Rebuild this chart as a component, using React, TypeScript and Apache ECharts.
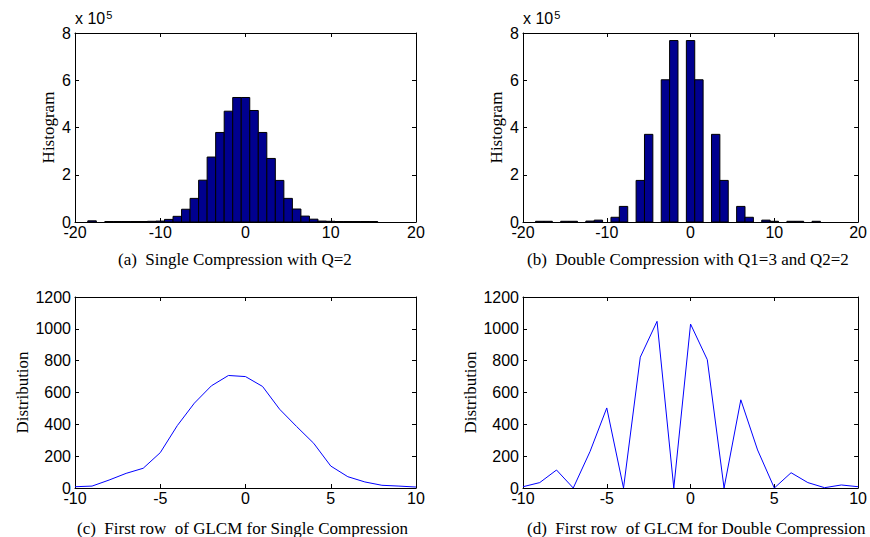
import React, { useEffect, useRef } from "react";
import * as echarts from "echarts";

// Histogram bin centres (DCT coefficient values)
const histBins = [-18, -17, -16, -15, -14, -13, -12, -11, -10, -9, -8, -7, -6, -5, -4, -3, -2, -1, 0, 1, 2, 3, 4, 5, 6, 7, 8, 9, 10, 11, 12, 13, 14, 15];
// (a) Single compression histogram counts
const singleHist = [5000, 0, 2000, 2000, 2000, 2000, 2000, 3000, 4000, 11000, 24000, 54000, 100000, 177000, 275000, 379000, 469000, 527000, 527000, 472000, 379000, 269000, 176000, 100000, 55000, 25000, 12000, 4000, 3000, 2000, 2000, 2000, 2000, 2000];
// (b) Double compression histogram counts
const doubleHist = [3000, 3000, 0, 3000, 3000, 0, 4000, 8000, 0, 20000, 66000, 0, 176000, 371000, 0, 602000, 768000, 0, 768000, 602000, 0, 371000, 176000, 0, 66000, 20000, 0, 8000, 3000, 0, 3000, 3000, 0, 3000];

// GLCM first row
const glcmX = [-10, -9, -8, -7, -6, -5, -4, -3, -2, -1, 0, 1, 2, 3, 4, 5, 6, 7, 8, 9, 10];
const glcmSingle = [8, 12, 50, 92, 124, 222, 392, 533, 642, 707, 700, 638, 495, 386, 281, 138, 71, 38, 17, 12, 6];
const glcmDouble = [8, 34, 113, 0, 229, 503, 0, 822, 1047, 0, 1030, 806, 0, 554, 239, 0, 96, 34, 2, 19, 8];

// Axis tick labels / ranges
const histXRange = [-20, 20, 10];
const histYRange = [0, 800000, 200000];
const glcmXRange = [-10, 10, 5];
const glcmYRange = [0, 1200, 200];

const captions = [
  "(a)  Single Compression with Q=2",
  "(b)  Double Compression with Q1=3 and Q2=2",
  "(c)  First row  of GLCM for Single Compression",
  "(d)  First row  of GLCM for Double Compression",
];

const TICK_FONT = "Liberation Sans, Arial, sans-serif";
const SERIF = "Liberation Serif, Times New Roman, serif";

const grids = [
  { left: 75, top: 33, width: 341, height: 189 },
  { left: 523, top: 33, width: 339, height: 189 },
  { left: 75, top: 297, width: 341, height: 191 },
  { left: 523, top: 297, width: 339, height: 191 },
];

export default function App() {
  const ref = useRef<HTMLDivElement>(null);
  useEffect(() => {
    if (!ref.current) return;
    const chart = echarts.init(ref.current, null, { renderer: "svg" });

    const xAxes: any[] = [];
    const yAxes: any[] = [];
    const axisLine = { show: true, onZero: false, lineStyle: { color: "#000", width: 1 } };
    const tick = { show: true, inside: true, length: 4, lineStyle: { color: "#000", width: 1 } };

    grids.forEach((g, i) => {
      const isHist = i < 2;
      const xr = isHist ? histXRange : glcmXRange;
      const yr = isHist ? histYRange : glcmYRange;
      const yName = isHist ? "Histogram" : "Distribution";
      const yGap = isHist ? 18 : 44;
      xAxes.push({
        gridIndex: i, type: "value", position: "bottom", min: xr[0], max: xr[1], interval: xr[2],
        axisLine, axisTick: tick, splitLine: { show: false },
        axisLabel: { show: true, margin: 2, color: "#000", fontSize: 16, fontFamily: TICK_FONT },
      });
      xAxes.push({
        gridIndex: i, type: "value", position: "top", min: xr[0], max: xr[1], interval: xr[2],
        axisLine, axisTick: tick, splitLine: { show: false }, axisLabel: { show: false },
      });
      yAxes.push({
        gridIndex: i, type: "value", position: "left", min: yr[0], max: yr[1], interval: yr[2],
        axisLine, axisTick: tick, splitLine: { show: false },
        axisLabel: {
          show: true, margin: 4, color: "#000", fontSize: 16, fontFamily: TICK_FONT,
          formatter: (v: number) => (isHist ? String(Math.round(v / 100000)) : String(v)),
        },
        name: yName, nameLocation: "middle", nameRotate: 90, nameGap: yGap,
        nameTextStyle: { color: "#000", fontSize: 17, fontFamily: SERIF },
      });
      yAxes.push({
        gridIndex: i, type: "value", position: "right", min: yr[0], max: yr[1], interval: yr[2],
        axisLine, axisTick: tick, splitLine: { show: false }, axisLabel: { show: false },
      });
    });

    const renderBar = (params: any, api: any) => {
      const x = api.value(0);
      const y = api.value(1);
      if (!y) return null;
      const p0 = api.coord([x - 0.5, 0]);
      const p1 = api.coord([x + 0.5, y]);
      return {
        type: "rect",
        shape: { x: p0[0], y: p1[1], width: p1[0] - p0[0], height: p0[1] - p1[1] },
        style: { fill: "#00008F", stroke: "#000", lineWidth: 1 },
      };
    };

    const series: any[] = [
      {
        type: "custom", xAxisIndex: 0, yAxisIndex: 0, renderItem: renderBar,
        data: histBins.map((b, k) => [b, singleHist[k]]),
      },
      {
        type: "custom", xAxisIndex: 2, yAxisIndex: 2, renderItem: renderBar,
        data: histBins.map((b, k) => [b, doubleHist[k]]),
      },
      {
        type: "line", xAxisIndex: 4, yAxisIndex: 4, showSymbol: false, symbol: "none",
        lineStyle: { color: "#0000FF", width: 1 },
        data: glcmX.map((x, k) => [x, glcmSingle[k]]),
      },
      {
        type: "line", xAxisIndex: 6, yAxisIndex: 6, showSymbol: false, symbol: "none",
        lineStyle: { color: "#0000FF", width: 1 },
        data: glcmX.map((x, k) => [x, glcmDouble[k]]),
      },
    ];

    const capPos = [
      [118, 259],
      [527, 259],
      [77, 528],
      [527, 528],
    ];
    const graphic: any[] = captions.map((c, i) => ({
      type: "text", x: capPos[i][0], y: capPos[i][1],
      style: {
        text: c, fill: "#000", font: `17px ${SERIF}`, align: "left", verticalAlign: "middle",
      },
    }));
    [75, 523].forEach((lx) => {
      graphic.push({
        type: "text", x: lx, y: 28,
        style: {
          text: "{a|x 10}{b|5}",
          verticalAlign: "bottom",
          rich: {
            a: { fontSize: 16, fontFamily: TICK_FONT, fill: "#000", padding: [0, 1, 0, 0] },
            b: { fontSize: 11, fontFamily: TICK_FONT, fill: "#000", verticalAlign: "top", padding: [0, 0, 8, 0] },
          },
        },
      });
    });

    chart.setOption({
      animation: false,
      backgroundColor: "#fff",
      grid: grids.map((g) => ({ ...g, containLabel: false })),
      xAxis: xAxes,
      yAxis: yAxes,
      series,
      graphic,
    });
    return () => chart.dispose();
  }, []);
  return (
    <div
      ref={ref}
      style={{ position: "absolute", left: 0, top: 0, width: 870, height: 537 }}
    />
  );
}
